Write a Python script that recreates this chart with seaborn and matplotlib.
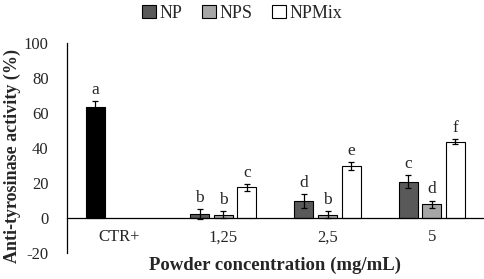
import seaborn as sns
import matplotlib.pyplot as plt
import pandas as pd
import numpy as np

# data
categories = ["CTR+", "1,25", "2,5", "5"]
series = ["NP", "NPS", "NPMix"]
np_vals = [63.5, 2.3, 9.5, 20.8]
nps_vals = [np.nan, 2.0, 2.0, 8.0]
npmix_vals = [np.nan, 17.5, 29.7, 43.6]
np_err = [3.5, 3.0, 4.0, 3.5]
nps_err = [np.nan, 2.0, 2.0, 2.0]
npmix_err = [np.nan, 2.0, 2.5, 1.5]
np_letters = ["a", "b", "d", "c"]
nps_letters = [None, "b", "b", "d"]
npmix_letters = [None, "c", "e", "f"]

df = pd.DataFrame({
    "conc": categories * 3,
    "group": [s for s in series for _ in categories],
    "value": np_vals + nps_vals + npmix_vals,
    "err": np_err + nps_err + npmix_err,
    "letter": np_letters + nps_letters + npmix_letters,
})

sns.set_style("white")
plt.rcParams['font.family'] = ['Liberation Serif', 'DejaVu Serif']
plt.rcParams['axes.unicode_minus'] = False

fig = plt.figure(figsize=(4.84, 2.79), dpi=100)
ax = fig.add_axes([0.138, 0.093, 0.862, 0.753])

colors = {"NP": "#595959", "NPS": "#a6a6a6", "NPMix": "#ffffff"}
sns.barplot(data=df.dropna(subset=["value"]), x="conc", y="value", hue="group",
            order=categories, hue_order=series, palette=colors,
            width=0.68, gap=0.2, edgecolor="black", linewidth=0.8,
            errorbar=None, legend=True, ax=ax)

# positive control drawn in black
ax.containers[0][0].set_facecolor("black")

# error bars and significance letters
for cont, s in zip(ax.containers, series):
    sub = df[(df["group"] == s) & df["value"].notna()]
    for bar, (_, row) in zip(cont, sub.iterrows()):
        xc = bar.get_x() + bar.get_width() / 2
        ax.errorbar(xc, row["value"], yerr=row["err"], fmt="none",
                    ecolor="black", elinewidth=0.9, capsize=2.5, capthick=0.9)
        ax.text(xc, row["value"] + row["err"] + 1.8, row["letter"],
                ha="center", va="bottom", fontsize=12.5)

ax.set_ylim(-20, 100)
ax.set_yticks(range(-20, 101, 20))
ax.set_xlim(-0.5, 3.5)
ax.tick_params(axis="both", length=0, labelsize=12)
ax.tick_params(axis="x", pad=8)
ax.tick_params(axis="y", pad=13)
for side in ["top", "right"]:
    ax.spines[side].set_visible(False)
ax.spines["bottom"].set_position(("data", 0))
ax.spines["left"].set_color("black")
ax.spines["bottom"].set_color("black")
ax.spines["left"].set_linewidth(0.9)
ax.spines["bottom"].set_linewidth(0.9)

ax.set_xlabel("Powder concentration (mg/mL)", fontsize=13.5, fontweight="bold")
ax.xaxis.set_label_coords(0.5, -0.015)
ax.set_ylabel("Anti-tyrosinase activity (%)", fontsize=13, fontweight="bold")
ax.yaxis.set_label_coords(-0.11, 0.46)

ax.legend(loc="upper center", bbox_to_anchor=(0.5, 1.0), bbox_transform=fig.transFigure,
          ncol=3, frameon=False, fontsize=13, handlelength=0.75, handleheight=0.75,
          handletextpad=0.2, columnspacing=1.1, borderaxespad=0.05, borderpad=0.2)

fig.savefig("out.png", dpi=100)
